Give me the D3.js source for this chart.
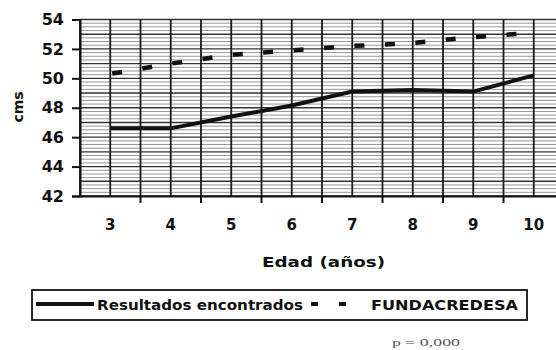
<!DOCTYPE html>
<html>
<head>
<meta charset="UTF-8">
<style>
  body { margin: 0; background: #fff; }
  svg { display: block; }
  text { font-family: "DejaVu Sans", Verdana, sans-serif; font-weight: bold; }
</style>
</head>
<body>
<svg id="chart"></svg>
<script src="https://d3js.org/d3.v7.min.js"></script>
<script>
// data
const ages = ["3", "4", "5", "6", "7", "8", "9", "10"];
const resultados = [46.6, 46.6, 47.4, 48.15, 49.1, 49.2, 49.1, 50.2];
const fundacredesa = [50.3, 51.0, 51.6, 51.9, 52.2, 52.4, 52.8, 53.1];
const yTicks = [42, 44, 46, 48, 50, 52, 54];

const width = 556, height = 350;
const svg = d3.select("#chart").attr("width", width).attr("height", height);

const x = d3.scaleBand().domain(ages).range([80, 564]);
const y = d3.scaleLinear().domain([42, 54]).range([196, 19.5]);
const cx = a => x(a) + x.bandwidth() / 2;

// horizontal grid: fine lines every 0.25, darker at whole units
const minor = d3.range(42, 54.01, 0.25);
svg.append("g").selectAll("line").data(minor).enter().append("line")
  .attr("x1", 80).attr("x2", width)
  .attr("y1", d => y(d)).attr("y2", d => y(d))
  .attr("stroke", d => Number.isInteger(d) ? "#333" : "#8a8a8a")
  .attr("stroke-width", d => Number.isInteger(d) ? 1.4 : 0.9);

// vertical grid at band edges and centres
const vx = [];
ages.forEach(a => { vx.push(x(a)); vx.push(cx(a)); });
svg.append("g").selectAll("line").data(vx).enter().append("line")
  .attr("x1", d => d).attr("x2", d => d)
  .attr("y1", y(54)).attr("y2", y(42))
  .attr("stroke", "#1a1a1a").attr("stroke-width", 1.8);

// y axis
const yAxis = svg.append("g").attr("transform", "translate(80,0)")
  .call(d3.axisLeft(y).tickValues(yTicks).tickSize(8).tickPadding(8));
yAxis.select(".domain").attr("stroke", "#111").attr("stroke-width", 2);
yAxis.selectAll(".tick line").attr("stroke", "#111").attr("stroke-width", 2);
yAxis.selectAll(".tick text").attr("font-size", 16).attr("fill", "#111")
  .attr("font-family", "DejaVu Sans, sans-serif").attr("font-weight", "bold");

// x axis line and ticks between categories
const xAxis = svg.append("g").attr("transform", "translate(0," + y(42) + ")")
  .call(d3.axisBottom(x).tickSize(0).tickPadding(23));
xAxis.select(".domain").attr("stroke", "#111").attr("stroke-width", 2);
xAxis.selectAll(".tick text").attr("font-size", 15).attr("fill", "#111")
  .attr("font-family", "DejaVu Sans, sans-serif").attr("font-weight", "bold");
svg.append("g").selectAll("line").data(ages.slice(1)).enter().append("line")
  .attr("x1", d => x(d)).attr("x2", d => x(d))
  .attr("y1", y(42)).attr("y2", y(42) + 7)
  .attr("stroke", "#111").attr("stroke-width", 2);

// lines
const lineGen = d3.line()
  .x((d, i) => cx(ages[i]))
  .y(d => y(d));

svg.append("path").datum(fundacredesa)
  .attr("d", lineGen)
  .attr("fill", "none").attr("stroke", "#111")
  .attr("stroke-width", 4.5)
  .attr("stroke-dasharray", "10,20.5")
  .attr("stroke-dashoffset", -2);

svg.append("path").datum(resultados)
  .attr("d", lineGen)
  .attr("fill", "none").attr("stroke", "#111")
  .attr("stroke-width", 4);

// axis titles
svg.append("text")
  .attr("transform", "translate(23,107) rotate(-90)")
  .attr("text-anchor", "middle")
  .attr("font-size", 14).attr("fill", "#111")
  .text("cms");

svg.append("text")
  .attr("x", 262).attr("y", 267)
  .attr("font-size", 14).attr("fill", "#111")
  .attr("textLength", 123).attr("lengthAdjust", "spacingAndGlyphs")
  .text("Edad (años)");

// legend
const lg = svg.append("g");
lg.append("rect").attr("x", 32).attr("y", 290).attr("width", 495).attr("height", 30)
  .attr("fill", "#fff").attr("stroke", "#111").attr("stroke-width", 1.8);
lg.append("line").attr("x1", 36).attr("x2", 94).attr("y1", 304).attr("y2", 304)
  .attr("stroke", "#111").attr("stroke-width", 4);
lg.append("text").attr("x", 97).attr("y", 310)
  .attr("font-size", 14).attr("fill", "#111")
  .attr("textLength", 206).attr("lengthAdjust", "spacingAndGlyphs")
  .text("Resultados encontrados");
lg.append("line").attr("x1", 311).attr("x2", 346).attr("y1", 304).attr("y2", 304)
  .attr("stroke", "#111").attr("stroke-width", 4)
  .attr("stroke-dasharray", "7,21");
lg.append("text").attr("x", 371).attr("y", 310)
  .attr("font-size", 14).attr("fill", "#111")
  .attr("textLength", 147).attr("lengthAdjust", "spacingAndGlyphs")
  .text("FUNDACREDESA");

svg.append("text").attr("x", 392).attr("y", 346)
  .style("font-family", "'Liberation Serif', 'Times New Roman', serif")
  .style("font-weight", "normal")
  .attr("font-size", 11).attr("fill", "#555")
  .attr("textLength", 68).attr("lengthAdjust", "spacingAndGlyphs")
  .text("p = 0,000");
</script>
</body>
</html>
